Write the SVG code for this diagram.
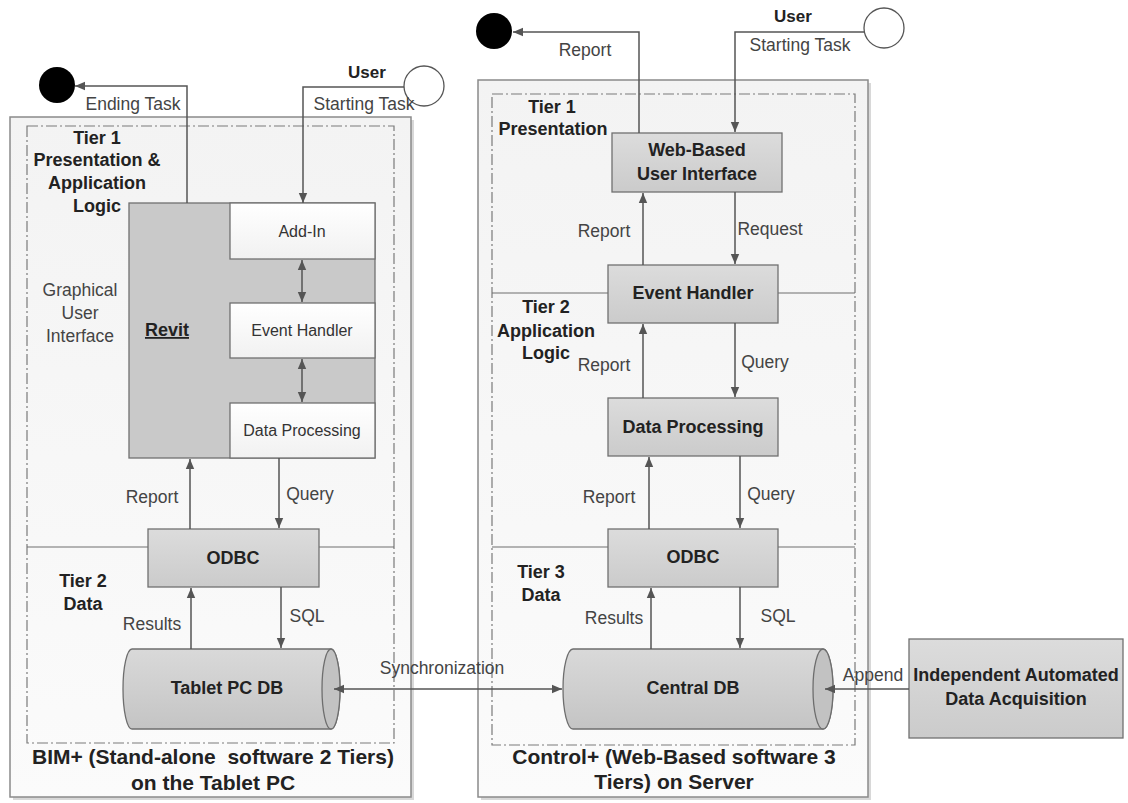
<svg xmlns="http://www.w3.org/2000/svg" width="1128" height="803" viewBox="0 0 1128 803">
<defs>
<linearGradient id="gOuter" x1="0" y1="0" x2="0" y2="1"><stop offset="0" stop-color="#f3f3f3"/><stop offset="1" stop-color="#fbfbfb"/></linearGradient>
<linearGradient id="gNode" x1="0" y1="0" x2="0" y2="1"><stop offset="0" stop-color="#dcdcdc"/><stop offset="1" stop-color="#cbcbcb"/></linearGradient>
<linearGradient id="gWhite" x1="0" y1="0" x2="0" y2="1"><stop offset="0" stop-color="#ffffff"/><stop offset="1" stop-color="#f1f1f1"/></linearGradient>
<linearGradient id="gCyl" x1="0" y1="0" x2="0" y2="1"><stop offset="0" stop-color="#d9d9d9"/><stop offset="0.5" stop-color="#cfcfcf"/><stop offset="1" stop-color="#c4c4c4"/></linearGradient>
<marker id="arr" viewBox="0 0 10 10" refX="10" refY="5" markerWidth="10" markerHeight="10" markerUnits="userSpaceOnUse" orient="auto-start-reverse"><path d="M0,0.8 L10,5 L0,9.2 z" fill="#555"/></marker>
</defs>
<style>
.outer{fill:url(#gOuter);stroke:#8a8a8a;stroke-width:1.5}
.shadow{fill:#d8d8d8}
.dash{fill:none;stroke:#7a7a7a;stroke-width:1.2;stroke-dasharray:11 3 2 3}
.div{stroke:#6e6e6e;stroke-width:1.2;fill:none}
.node{fill:url(#gNode);stroke:#707070;stroke-width:1.3}
.white{fill:url(#gWhite);stroke:#707070;stroke-width:1.3}
.revit{fill:#c9c9c9;stroke:#707070;stroke-width:1.3}
.cyl{fill:url(#gCyl);stroke:#6e6e6e;stroke-width:1.3}
.face{fill:#c2c2c2;stroke:#6e6e6e;stroke-width:1.3}
.c{fill:none;stroke:#555;stroke-width:1.5}
.a{fill:none;stroke:#555;stroke-width:1.5;marker-end:url(#arr)}
.aa{fill:none;stroke:#555;stroke-width:1.5;marker-end:url(#arr);marker-start:url(#arr)}
text{font-family:"Liberation Sans",Arial,sans-serif;fill:#222}
.b{font-weight:bold;font-size:18px;text-anchor:middle}
.t{font-weight:bold;font-size:21px;text-anchor:middle;white-space:pre}
.l{font-size:17.5px;fill:#444;text-anchor:middle}
.w{font-size:16px;fill:#333;text-anchor:middle}
.u{font-weight:bold;font-size:18px;text-decoration:underline;text-anchor:middle}
</style>

<g id="bim-container">
<rect class="shadow" x="13" y="120" width="401" height="680"/>
<rect class="outer" x="10" y="117" width="401" height="680"/>
<rect class="dash" x="27" y="126" width="367" height="617"/>
<line class="div" x1="27" y1="547" x2="148" y2="547"/>
<line class="div" x1="319" y1="547" x2="394" y2="547"/>
<text class="b" x="97" y="144">Tier 1</text>
<text class="b" x="97" y="166">Presentation &amp;</text>
<text class="b" x="97" y="189">Application</text>
<text class="b" x="97" y="212">Logic</text>
<text class="l" x="80" y="296">Graphical</text>
<text class="l" x="80" y="319">User</text>
<text class="l" x="80" y="342">Interface</text>
<text class="b" x="83" y="587">Tier 2</text>
<text class="b" x="83" y="610">Data</text>
<text class="t" x="213" y="764" xml:space="preserve">BIM+ (Stand-alone  software 2 Tiers)</text>
<text class="t" x="213" y="790">on the Tablet PC</text>
</g>

<g id="control-container">
<rect class="shadow" x="481" y="83" width="390" height="717"/>
<rect class="outer" x="478" y="80" width="390" height="717"/>
<rect class="dash" x="492" y="94" width="363" height="651"/>
<line class="div" x1="492" y1="293" x2="608" y2="293"/>
<line class="div" x1="778" y1="293" x2="855" y2="293"/>
<line class="div" x1="492" y1="547" x2="608" y2="547"/>
<line class="div" x1="778" y1="547" x2="855" y2="547"/>
<text class="b" x="552" y="113">Tier 1</text>
<text class="b" x="553" y="135">Presentation</text>
<text class="b" x="546" y="313">Tier 2</text>
<text class="b" x="546" y="337">Application</text>
<text class="b" x="546" y="359">Logic</text>
<text class="b" x="541" y="578">Tier 3</text>
<text class="b" x="541" y="601">Data</text>
<text class="t" x="674" y="764">Control+ (Web-Based software 3</text>
<text class="t" x="674" y="789">Tiers) on Server</text>
</g>

<g id="start-left">
<circle cx="424" cy="86" r="20" fill="#fff" stroke="#555" stroke-width="1.3"/>
<text x="367" y="78" style="font-weight:bold;font-size:17px;text-anchor:middle">User</text>
</g>
<g id="end-left"><circle cx="57" cy="85" r="18" fill="#000"/></g>
<g id="start-right">
<circle cx="884" cy="28" r="20" fill="#fff" stroke="#555" stroke-width="1.3"/>
<text x="793" y="22" style="font-weight:bold;font-size:17px;text-anchor:middle">User</text>
</g>
<g id="end-right"><circle cx="494" cy="31" r="18" fill="#000"/></g>

<g id="revit">
<rect class="revit" x="129" y="203" width="246" height="255"/>
<text class="u" x="167" y="336">Revit</text>
</g>
<g id="addin"><rect class="white" x="230" y="203" width="145" height="56"/><text class="w" x="302" y="237">Add-In</text></g>
<g id="event-left"><rect class="white" x="230" y="303" width="145" height="55"/><text class="w" x="302" y="336">Event Handler</text></g>
<g id="dp-left"><rect class="white" x="230" y="403" width="145" height="55"/><text class="w" x="302" y="436">Data Processing</text></g>
<g id="odbc-left"><rect class="node" x="148" y="529" width="171" height="58"/><text class="b" x="233" y="564">ODBC</text></g>
<g id="tablet-db">
<path class="cyl" d="M132,649 L331,649 A9,40 0 0 1 331,729 L132,729 A9,40 0 0 1 132,649 Z"/>
<path class="face" d="M331,649 A9,40 0 0 1 331,729 A9,40 0 0 1 331,649 Z"/>
<text class="b" x="227" y="694">Tablet PC DB</text>
</g>

<g id="webui"><rect class="node" x="612" y="133" width="170" height="59"/><text class="b" x="697" y="156">Web-Based</text><text class="b" x="697" y="180">User Interface</text></g>
<g id="event-right"><rect class="node" x="608" y="265" width="170" height="58"/><text class="b" x="693" y="299">Event Handler</text></g>
<g id="dp-right"><rect class="node" x="608" y="398" width="170" height="58"/><text class="b" x="693" y="433">Data Processing</text></g>
<g id="odbc-right"><rect class="node" x="608" y="529" width="170" height="58"/><text class="b" x="693" y="563">ODBC</text></g>
<g id="central-db">
<path class="cyl" d="M573,649 L823,649 A10,40 0 0 1 823,729 L573,729 A10,40 0 0 1 573,649 Z"/>
<path class="face" d="M823,649 A10,40 0 0 1 823,729 A10,40 0 0 1 823,649 Z"/>
<text class="b" x="693" y="694">Central DB</text>
</g>
<g id="acquisition"><rect class="node" x="909" y="639" width="214" height="99"/><text class="b" x="1016" y="681">Independent Automated</text><text class="b" x="1016" y="705">Data Acquisition</text></g>

<g id="connectors">
<polyline class="a" points="404,87 303,87 303,203"/>
<text class="l" x="364" y="110">Starting Task</text>
<polyline class="a" points="187,203 187,86 75,86"/>
<text class="l" x="133" y="110">Ending Task</text>
<line class="aa" x1="302" y1="260" x2="302" y2="302"/>
<line class="aa" x1="302" y1="359" x2="302" y2="402"/>
<line class="a" x1="190" y1="529" x2="190" y2="459"/>
<text class="l" x="152" y="503">Report</text>
<line class="a" x1="279" y1="458" x2="279" y2="528"/>
<text class="l" x="310" y="500">Query</text>
<line class="a" x1="191" y1="649" x2="191" y2="588"/>
<text class="l" x="152" y="630">Results</text>
<line class="a" x1="281" y1="587" x2="281" y2="648"/>
<text class="l" x="307" y="622">SQL</text>
<line class="aa" x1="334" y1="689" x2="562" y2="689"/>
<text class="l" x="442" y="674">Synchronization</text>

<polyline class="a" points="864,32 735,32 735,132"/>
<text class="l" x="800" y="51">Starting Task</text>
<polyline class="a" points="639,133 639,32 513,32"/>
<text class="l" x="585" y="56">Report</text>
<line class="a" x1="643" y1="265" x2="643" y2="193"/>
<text class="l" x="604" y="237">Report</text>
<line class="a" x1="735" y1="192" x2="735" y2="264"/>
<text class="l" x="770" y="235">Request</text>
<line class="a" x1="643" y1="398" x2="643" y2="324"/>
<text class="l" x="604" y="371">Report</text>
<line class="a" x1="735" y1="323" x2="735" y2="397"/>
<text class="l" x="765" y="368">Query</text>
<line class="a" x1="649" y1="529" x2="649" y2="457"/>
<text class="l" x="609" y="503">Report</text>
<line class="a" x1="740" y1="456" x2="740" y2="528"/>
<text class="l" x="771" y="500">Query</text>
<line class="a" x1="651" y1="649" x2="651" y2="588"/>
<text class="l" x="614" y="624">Results</text>
<line class="a" x1="740" y1="587" x2="740" y2="648"/>
<text class="l" x="778" y="622">SQL</text>
<line class="a" x1="909" y1="689" x2="825" y2="689"/>
<text class="l" x="873" y="681">Append</text>
</g>
</svg>
